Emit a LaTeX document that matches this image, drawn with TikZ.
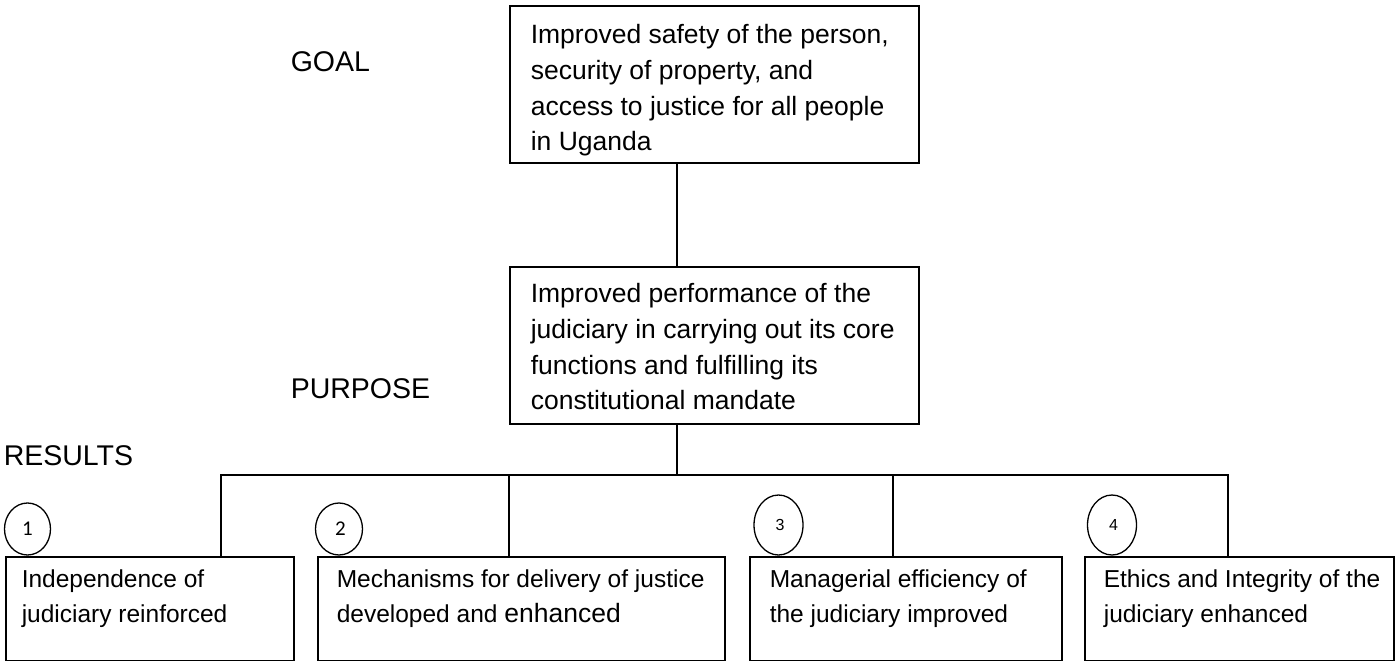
\documentclass[tikz,border=0pt]{standalone}
\usepackage{fontspec}
\setmainfont{Liberation Sans}
\newfontfamily\calibri{Carlito}
\usetikzlibrary{positioning,shapes.geometric}
\tikzset{frame/.style={draw, rectangle, anchor=north west, inner sep=0pt},
  blurb/.style={anchor=north west, inner sep=0pt, align=left},
  bigblurb/.style={blurb, font=\fontsize{26.5}{35.7}\selectfont},
  smallblurb/.style={blurb, font=\fontsize{24.5}{35}\selectfont},
  heading/.style={anchor=base west, inner sep=0pt, font=\fontsize{28.5}{34}\selectfont},
  badge/.style={draw, ellipse, line width=1.3pt, inner sep=0pt}}

\begin{document}
\begin{tikzpicture}[x=1pt, y=-1pt, line width=1.6pt]
  \useasboundingbox (0,0) rectangle (1395,661);
  % goal and purpose
  \node[frame, minimum width=409pt, minimum height=157pt] (goal) at (509,5) {};
  \node[frame, minimum width=409pt, minimum height=157pt] (purpose) at (509,266) {};
  \node[bigblurb, below right=18.7pt and 21pt of goal.north west] (goaltext)
    {Improved safety of the person,\\security of property, and\\access to justice for all people\\in Uganda};
  \node[bigblurb, below right=16.7pt and 21pt of purpose.north west] (purposetext)
    {Improved performance of the\\judiciary in carrying out its core\\functions and fulfilling its\\constitutional mandate};
  \node[heading] (goallabel) at (290,72) {GOAL};
  \node[heading] (purposelabel) at (290,398) {PURPOSE};
  \node[heading] (resultslabel) at (3,465) {RESULTS};
  % results
  \node[frame, minimum width=288pt, minimum height=103.5pt] (res1) at (5,556) {};
  \node[frame, minimum width=407pt, minimum height=103.5pt] (res2) at (317,556) {};
  \node[frame, minimum width=312pt, minimum height=103.5pt] (res3) at (749,556) {};
  \node[frame, minimum width=309pt, minimum height=103.5pt] (res4) at (1084,556) {};
  \node[smallblurb, below right=13pt and 16pt of res1.north west] (res1text) {Independence of\\judiciary reinforced};
  \node[smallblurb, below right=13pt and 19pt of res2.north west] (res2text)
    {Mechanisms for delivery of justice\\developed and {\fontsize{26.5}{35}\selectfont enhanced}};
  \node[smallblurb, below right=13pt and 20pt of res3.north west] (res3text) {Managerial efficiency of\\the judiciary improved};
  \node[smallblurb, below right=13pt and 19pt of res4.north west] (res4text) {Ethics and Integrity of the\\judiciary enhanced};
  \node[badge, minimum width=46pt, minimum height=52pt, font=\calibri\fontsize{21}{21}\selectfont] (num1) at (27.5,529) {\raisebox{-5pt}{1}};
  \node[badge, minimum width=47pt, minimum height=52pt, font=\calibri\fontsize{21}{21}\selectfont] (num2) at (339,529) {\raisebox{-5pt}{\kern3pt 2}};
  \node[badge, minimum width=49pt, minimum height=60pt, font=\fontsize{16}{16}\selectfont] (num3) at (778.5,525) {\kern3pt 3};
  \node[badge, minimum width=49pt, minimum height=60pt, font=\fontsize{16}{16}\selectfont] (num4) at (1112,525) {\kern3pt 4};
  % connectors
  \coordinate (spine) at (677,475);
  \draw (goal.south -| spine) -- (purpose.north -| spine);
  \draw (purpose.south -| spine) -- (spine);
  \foreach \i/\x in {1/221,2/509,3/893,4/1228} \coordinate (drop\i) at (\x,475);
  \draw (drop1 |- res1.north) -- (drop1) -- (drop4) -- (drop4 |- res4.north);
  \draw (drop2) -- (drop2 |- res2.north);
  \draw (drop3) -- (drop3 |- res3.north);
\end{tikzpicture}
\end{document}
